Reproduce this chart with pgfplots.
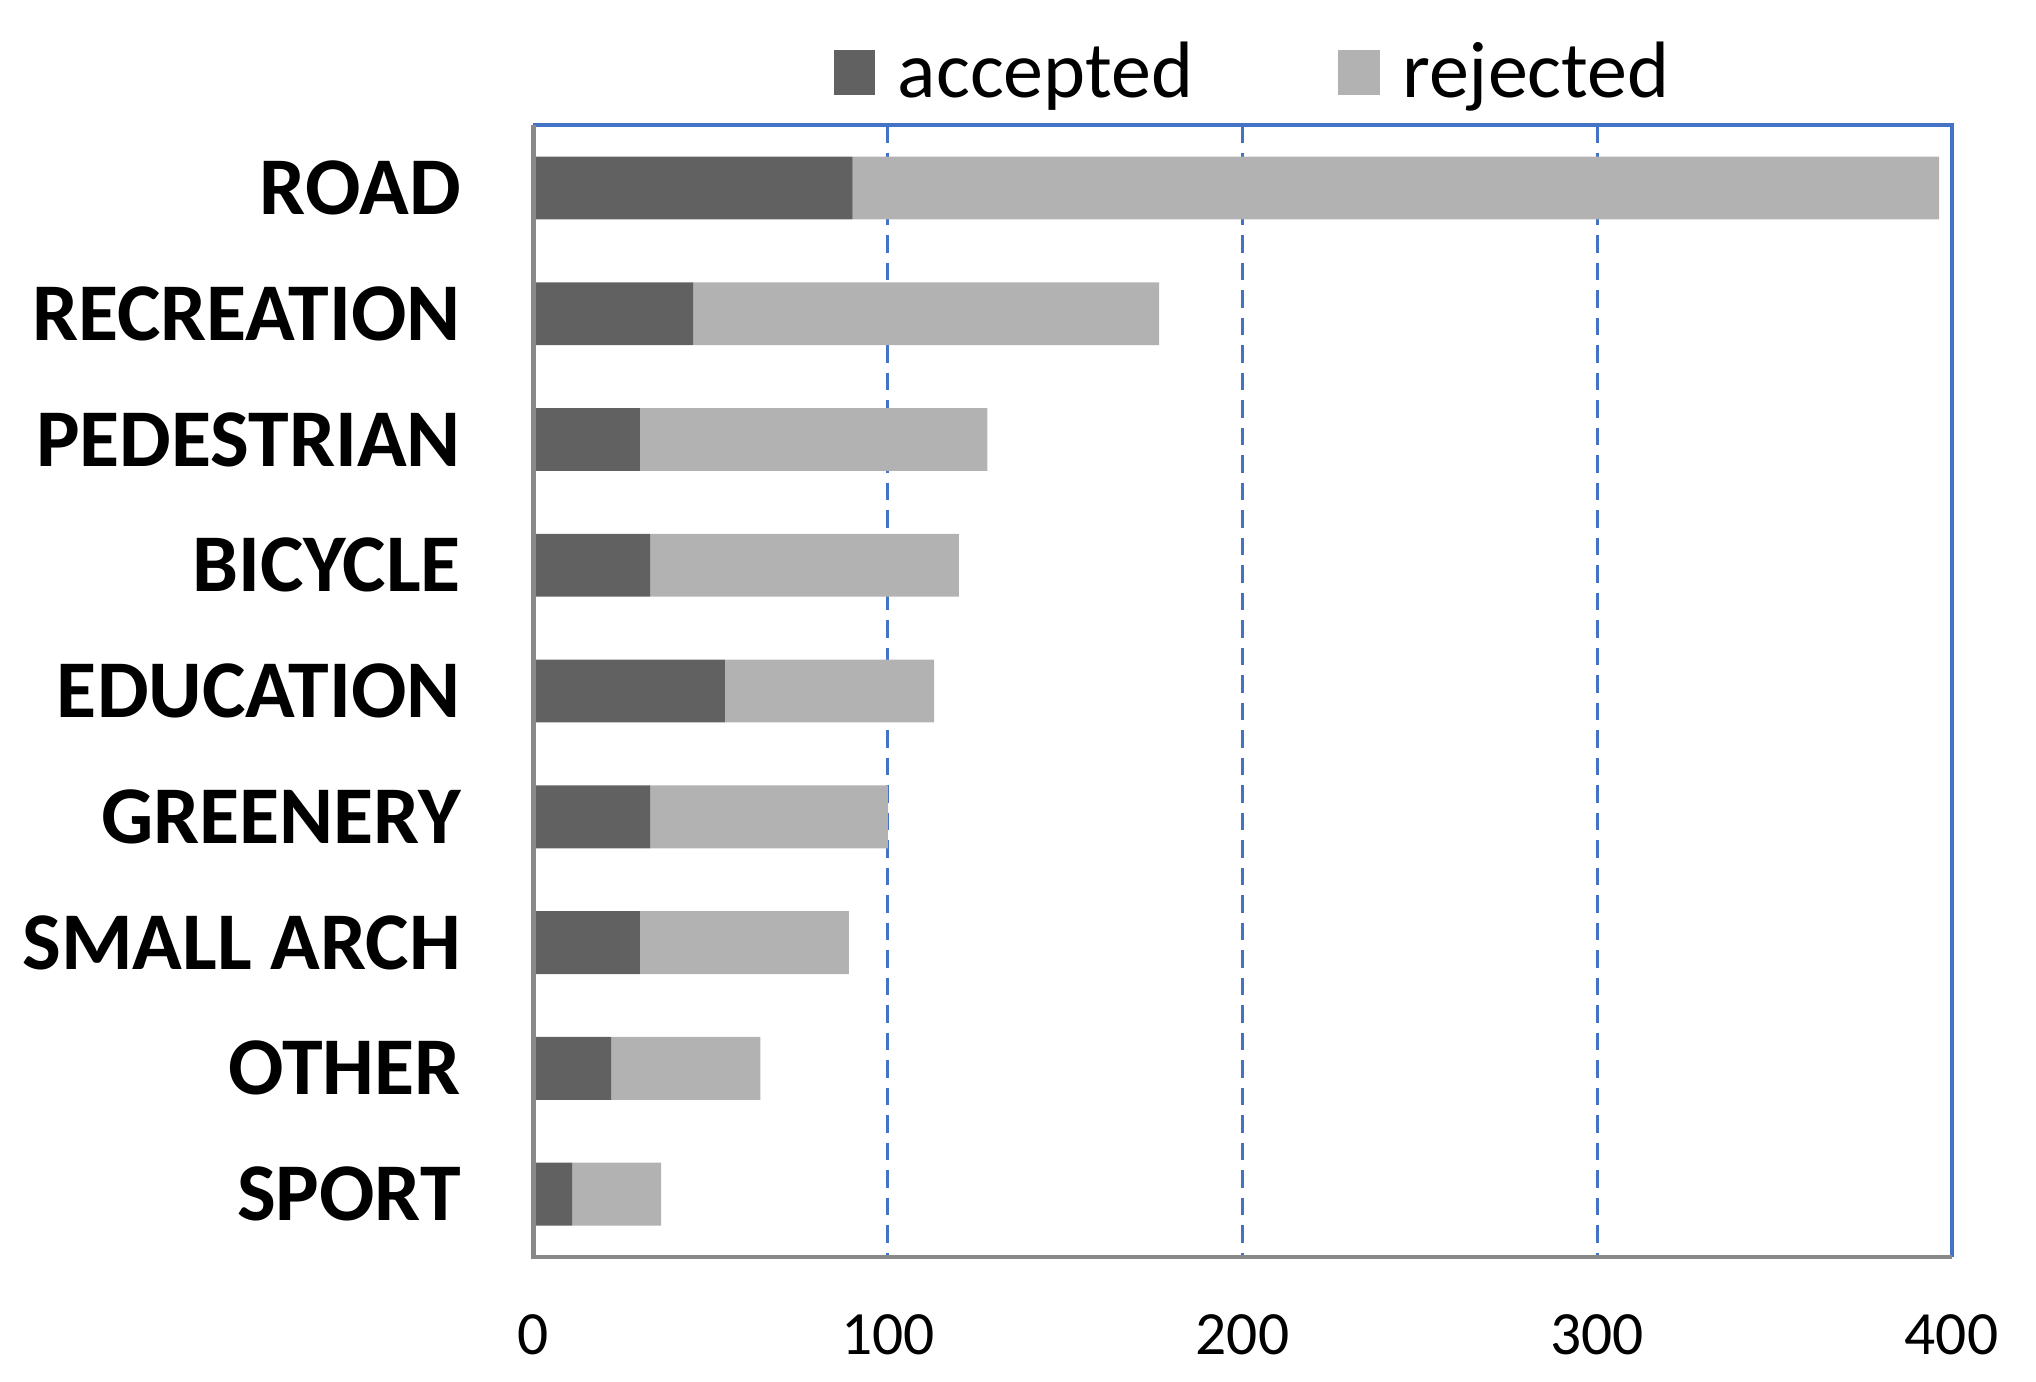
\documentclass[border=0pt]{standalone}
\usepackage{pgfplots}
\pgfplotsset{compat=1.18}
\usepackage{fontspec}
\setmainfont{Carlito}
\definecolor{acc}{HTML}{616161}
\definecolor{rej}{HTML}{B2B2B2}
\definecolor{gridblue}{HTML}{4472C4}
\definecolor{axgray}{HTML}{898989}
\begin{document}
\begin{tikzpicture}
\begin{axis}[
  at={(0,0)}, anchor=south west,
  width=283.6pt, height=226.4pt, scale only axis,
  xbar stacked, bar width=0.5,
  xmin=0, xmax=400, ymin=-0.5, ymax=8.5, y dir=reverse,
  axis line style={draw=none},
  xtick={0,100,200,300,400},
  extra x ticks={100,200,300}, extra x tick labels={},
  extra x tick style={grid=major, major tick length=0pt},
  grid style={gridblue, line width=0.6pt, dash pattern=on 3.5pt off 2pt},
  major tick length=0pt,
  ytick={0,...,8},
  yticklabels={ROAD,RECREATION,PEDESTRIAN,BICYCLE,EDUCATION,GREENERY,SMALL ARCH,OTHER,SPORT},
  yticklabel style={font=\bfseries\fontsize{16.4}{16.4}\selectfont, xshift=-11pt},
  xticklabel style={font=\fontsize{12.3}{12.3}\selectfont, yshift=-8pt},
  /pgf/number format/assume math mode=true,
  legend style={at={(0.51,1.008)}, anchor=south, draw=none, fill=none, inner sep=0pt,
    legend columns=2, font=\fontsize{16}{16}\selectfont,
    /tikz/every odd column/.append style={column sep=2.5pt},
    /tikz/every even column/.append style={column sep=27pt},
    legend cell align=left},
  legend image code/.code={\fill[#1] (0pt,-4.3pt) rectangle (8.3pt,4.7pt);},
]
\addplot[fill=acc, draw=none] coordinates {(90,0) (45,1) (30,2) (33,3) (54,4) (33,5) (30,6) (22,7) (11,8)};
\addplot[fill=rej, draw=none] coordinates {(306.5,0) (131.5,1) (98,2) (87,3) (59,4) (67,5) (59,6) (42,7) (25,8)};
\legend{accepted,rejected}
\end{axis}
\draw[gridblue, line width=0.8pt] (0,226.4pt) -- (283.6pt,226.4pt) -- (283.6pt,0);
\draw[axgray, line width=0.9pt] (0,226.4pt) -- (0,0) -- (283.6pt,0);
\pgfresetboundingbox
\path (-106.7pt,-24.8pt) rectangle (300.5pt,251.4pt);
\end{tikzpicture}
\end{document}
